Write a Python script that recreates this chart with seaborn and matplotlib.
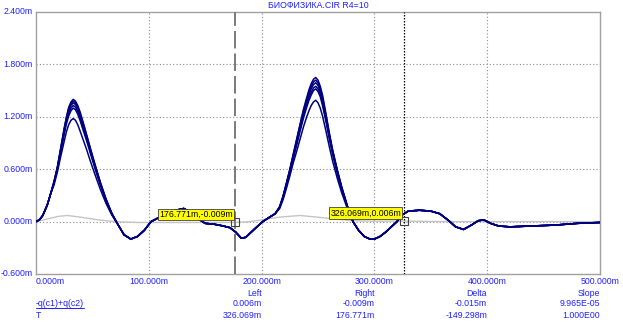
import matplotlib
matplotlib.use("Agg")
import matplotlib.pyplot as plt
import matplotlib.transforms as mtransforms
from matplotlib.lines import Line2D
import seaborn as sns
import pandas as pd

# ---------------- data (time in ms, values in m-units) ----------------
t_seg0 = [0, 3, 6, 10, 13]
v_seg0 = [0.00, 0.02, 0.07, 0.19, 0.32]

t_peak1 = [16, 19, 22, 25, 27, 29, 31, 33, 35, 37, 39, 42, 45, 48, 52, 57, 62, 67]
peak1_A = [0.46, 0.63, 0.85, 1.07, 1.20, 1.31, 1.37, 1.40, 1.38, 1.33, 1.26, 1.13, 0.99, 0.85, 0.67, 0.45, 0.26, 0.10]
peak1_B = [0.46, 0.62, 0.84, 1.06, 1.19, 1.29, 1.35, 1.38, 1.36, 1.31, 1.24, 1.11, 0.98, 0.84, 0.66, 0.45, 0.26, 0.10]
peak1_C = [0.45, 0.62, 0.83, 1.04, 1.17, 1.27, 1.33, 1.36, 1.34, 1.29, 1.22, 1.09, 0.96, 0.83, 0.65, 0.44, 0.25, 0.10]
peak1_D = [0.45, 0.61, 0.82, 1.02, 1.15, 1.24, 1.30, 1.33, 1.31, 1.26, 1.19, 1.07, 0.94, 0.81, 0.64, 0.43, 0.25, 0.09]
peak1_E = [0.44, 0.60, 0.80, 1.00, 1.12, 1.21, 1.27, 1.30, 1.28, 1.23, 1.16, 1.04, 0.92, 0.79, 0.62, 0.42, 0.24, 0.09]
peak1_F = [0.42, 0.57, 0.75, 0.92, 1.03, 1.11, 1.16, 1.18, 1.16, 1.11, 1.04, 0.93, 0.82, 0.70, 0.55, 0.37, 0.21, 0.08]

t_mid = [72, 78, 84, 90, 96, 102, 108, 116, 124, 131, 138, 144, 150, 158, 166, 172,
         177, 182, 186, 190, 195, 201, 207, 212]
v_mid = [-0.02, -0.15, -0.20, -0.17, -0.10, 0.00, 0.04, 0.09, 0.13, 0.15, 0.10, 0.03,
         -0.02, -0.03, -0.05, -0.07, -0.12, -0.19, -0.18, -0.13, -0.07, 0.00, 0.05, 0.09]

t_peak2 = [216, 219, 222, 225, 228, 231, 234, 237, 240, 242, 244, 246, 248, 250, 252,
           254, 257, 260, 263, 267, 271, 276]
peak2_A = [0.17, 0.29, 0.44, 0.60, 0.77, 0.94, 1.11, 1.28, 1.42, 1.51, 1.58, 1.63, 1.65, 1.62, 1.55, 1.45, 1.24, 1.02, 0.82, 0.60, 0.40, 0.18]
peak2_B = [0.17, 0.29, 0.44, 0.59, 0.76, 0.93, 1.10, 1.26, 1.40, 1.48, 1.55, 1.60, 1.62, 1.59, 1.52, 1.42, 1.22, 1.00, 0.81, 0.59, 0.39, 0.18]
peak2_C = [0.17, 0.28, 0.43, 0.58, 0.75, 0.91, 1.08, 1.24, 1.37, 1.45, 1.52, 1.57, 1.59, 1.56, 1.49, 1.39, 1.20, 0.99, 0.80, 0.58, 0.39, 0.18]
peak2_D = [0.16, 0.28, 0.42, 0.57, 0.73, 0.89, 1.05, 1.21, 1.34, 1.42, 1.48, 1.53, 1.55, 1.52, 1.46, 1.36, 1.17, 0.97, 0.78, 0.57, 0.38, 0.17]
peak2_E = [0.16, 0.27, 0.41, 0.56, 0.72, 0.87, 1.03, 1.18, 1.31, 1.39, 1.45, 1.50, 1.52, 1.49, 1.43, 1.33, 1.15, 0.95, 0.77, 0.56, 0.37, 0.17]
peak2_F = [0.15, 0.25, 0.38, 0.52, 0.67, 0.80, 0.94, 1.08, 1.20, 1.27, 1.33, 1.37, 1.39, 1.36, 1.30, 1.21, 1.04, 0.86, 0.69, 0.50, 0.33, 0.15]

t_post = [281, 286, 291, 296, 300, 305, 310, 315, 320, 325, 330, 340, 350, 358, 366,
          372, 379, 386, 392, 397, 403, 410, 420, 440, 460, 480, 500]
v_post = [0.00, -0.10, -0.17, -0.20, -0.20, -0.17, -0.12, -0.06, 0.00, 0.08, 0.12, 0.13,
          0.12, 0.09, 0.01, -0.06, -0.09, -0.04, 0.01, 0.02, -0.02, -0.05, -0.06, -0.05,
          -0.04, -0.02, -0.01]

grey_t = [0, 10, 20, 28, 40, 55, 70, 90, 120, 150, 176.771, 190, 200, 215, 234, 250,
          265, 280, 300, 326.069, 360, 400, 450, 500]
grey_v = [0.00, 0.03, 0.06, 0.07, 0.05, 0.02, 0.00, -0.01, -0.01, -0.01, -0.009, 0.00,
          0.02, 0.05, 0.07, 0.05, 0.03, 0.01, 0.005, 0.006, 0.00, 0.00, 0.00, 0.00]

peaks1 = {"A": peak1_A, "B": peak1_B, "C": peak1_C, "D": peak1_D, "E": peak1_E, "F": peak1_F}
peaks2 = {"A": peak2_A, "B": peak2_B, "C": peak2_C, "D": peak2_D, "E": peak2_E, "F": peak2_F}

cursor_left = (176.771, -0.009)
cursor_right = (326.069, 0.006)

title = "БИОФИЗИКА.CIR R4=10"
x_ticks = [0, 100, 200, 300, 400, 500]
y_ticks = [-0.6, 0.0, 0.6, 1.2, 1.8, 2.4]
col_heads = ["Left", "Right", "Delta", "Slope"]
row1_name = "-q(c1)+q(c2)"
row1_vals = ["0.006m", "-0.009m", "-0.015m", "9.965E-05"]
row2_name = "T"
row2_vals = ["326.069m", "176.771m", "-149.298m", "1.000E00"]

# ---------------- build long-form table ----------------
t_all = t_seg0 + t_peak1 + t_mid + t_peak2 + t_post
rows = []
for name in ["F", "E", "D", "C", "B", "A"]:
    vals = v_seg0 + peaks1[name] + v_mid + peaks2[name] + v_post
    for tt, vv in zip(t_all, vals):
        rows.append({"t": tt, "v": vv, "trace": name})
df = pd.DataFrame(rows)
df_grey = pd.DataFrame({"t": grey_t, "v": grey_v})

# ---------------- figure ----------------
sns.set_style("white")
plt.rcParams["font.family"] = ["Liberation Sans", "DejaVu Sans"]

W, H = 623, 324
fig = plt.figure(figsize=(W / 100, H / 100), dpi=100)
fig.patch.set_facecolor("white")
ax = fig.add_axes([36 / W, 1 - 274 / H, 564 / W, 262 / H])

blue_txt = "#2020ff"
navy = "#00007f"

# grid
for xv in x_ticks[1:-1]:
    ax.axvline(xv, color="#8c8c8c", lw=0.8, ls=(0, (1, 2)), zorder=1)
for yv in y_ticks[1:-1]:
    ax.axhline(yv, color="#8c8c8c", lw=0.8, ls=(0, (1, 2)), zorder=1)

sns.lineplot(data=df_grey, x="t", y="v", ax=ax, color="#c4c4c4", lw=1.0,
             estimator=None, sort=False, zorder=2)
sns.lineplot(data=df, x="t", y="v", hue="trace", ax=ax,
             palette=[navy] * 6, lw=1.1, estimator=None, sort=False,
             legend=False, zorder=3)

ax.set_xlim(0, 500)
ax.set_ylim(-0.6, 2.4)
ax.set_xlabel("")
ax.set_ylabel("")
ax.set_xticks(x_ticks)
ax.set_yticks(y_ticks)
ax.set_xticklabels([])
ax.set_yticklabels([])
ax.tick_params(length=0)
for s in ax.spines.values():
    s.set_color("#a0a0a0")
    s.set_linewidth(1.0)

# cursors
ax.axvline(cursor_left[0], color="#7a7a7a", lw=1.4, ls=(0, (9, 2.6)), zorder=4)
ax.axvline(cursor_right[0], color="black", lw=0.9, ls=(0, (1.2, 1.2)), zorder=4)
for cx, cy in [cursor_left, cursor_right]:
    ax.plot([cx], [cy], marker="s", ms=6, mfc="none", mec="#404040", mew=0.8, zorder=6)

fs = 6.3
for cx, cy in [cursor_left, cursor_right]:
    ax.annotate(f"{cx:.3f}m,{cy:.3f}m", xy=(cx, cy),
                xytext=(-2, 2.5), textcoords="offset points", ha="right", va="bottom",
                fontsize=fs, color="black", zorder=7,
                bbox=dict(boxstyle="square,pad=0.15", fc="#ffff00", ec="#404040", lw=0.6))

# tick labels
xform_x = mtransforms.blended_transform_factory(ax.transData, fig.transFigure)
xform_y = mtransforms.blended_transform_factory(fig.transFigure, ax.transData)
for i, xv in enumerate(x_ticks):
    ha = "left" if i == 0 else "center"
    fig.text(xv, 1 - 281 / H, f"{xv:.3f}m", transform=xform_x, ha=ha, va="center",
             fontsize=fs, color=blue_txt)
for yv in y_ticks:
    fig.text(33 / W, yv, f"{yv:.3f}m", transform=xform_y, ha="right", va="center",
             fontsize=fs, color=blue_txt)

fig.text(318 / W, 1 - 6 / H, title, ha="center", va="center", fontsize=fs,
         color=blue_txt)

# bottom table
for xv, head, v1, v2 in zip(x_ticks[2:], col_heads, row1_vals, row2_vals):
    fig.text(xv, 1 - 293 / H, head, transform=xform_x, ha="right", va="center",
             fontsize=fs, color=blue_txt)
    fig.text(xv, 1 - 304 / H, v1, transform=xform_x, ha="right", va="center",
             fontsize=fs, color=blue_txt)
    fig.text(xv, 1 - 315 / H, v2, transform=xform_x, ha="right", va="center",
             fontsize=fs, color=blue_txt)
name_txt = fig.text(36 / W, 1 - 304 / H, row1_name, ha="left", va="center",
                    fontsize=fs, color=blue_txt)
fig.text(36 / W, 1 - 315 / H, row2_name, ha="left", va="center",
         fontsize=fs, color=blue_txt)

fig.canvas.draw()
bb = name_txt.get_window_extent().transformed(fig.transFigure.inverted())
fig.add_artist(Line2D([bb.x0, bb.x1], [bb.y0 + 0.002, bb.y0 + 0.002],
                      transform=fig.transFigure, color=blue_txt, lw=0.7))

fig.savefig("out.png", dpi=100, facecolor="white")
